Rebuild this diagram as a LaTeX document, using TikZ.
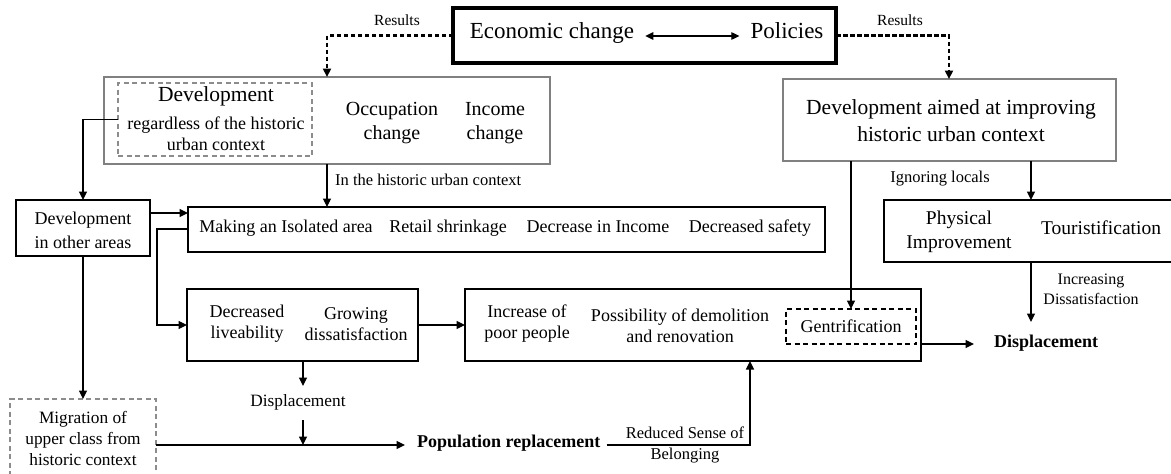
\documentclass[tikz,border=0pt]{standalone}
\usepackage{fontspec}
\setmainfont{Liberation Serif}
\usetikzlibrary{arrows.meta}
\newcommand\fsz[2]{\fontsize{#1}{#2}\selectfont}
\begin{document}
\begin{tikzpicture}[x=1pt,y=-1pt,
  box/.style={draw, line width=1.5pt, inner sep=0pt, outer sep=0pt, anchor=north west},
  gbox/.style={box, draw=black!50, line width=1.7pt},
  gdash/.style={box, draw=black!45, dash pattern=on 5pt off 3.5pt, line width=1.4pt},
  kdash/.style={box, draw=black, dash pattern=on 5pt off 3.5pt, line width=1.9pt},
  tbox/.style={box, line width=3.5pt},
  txt/.style={inner sep=0pt, align=center, font=\fsz{18}{21}},
  lbl/.style={inner sep=0pt, align=center, font=\fsz{16.5}{21}},
  one/.style={text height=0.7em, text depth=0.2em},
  arr/.style={line width=1.2pt, -{Triangle[length=8.5pt,width=8pt]}},
  dasharr/.style={line width=2.2pt, dash pattern=on 4.5pt off 2.5pt, -{Triangle[length=8.5pt,width=8pt]}},
  dblarr/.style={line width=1.2pt, {Triangle[length=8pt,width=7.5pt]}-{Triangle[length=8pt,width=7.5pt]}},
]
\useasboundingbox[fill=white] (0,0) rectangle (1171,474);

% ---------- boxes ----------
\node[tbox, minimum width=383, minimum height=55] (eco) at (453,8) {};
\node[gbox, minimum width=446, minimum height=87] (dev1) at (104,77) {};
\node[gdash, minimum width=194, minimum height=73] (in1) at (118,83) {};
\node[gbox, minimum width=333, minimum height=82] (dev2) at (783,79) {};
\node[box, minimum width=134, minimum height=56] (oth) at (16,200) {};
\node[box, minimum width=637, minimum height=45] (mk) at (188,207) {};
\node[box, minimum width=289, minimum height=62] (phys) at (884,200) {};
\node[box, minimum width=231, minimum height=72] (dec) at (187,289) {};
\node[box, minimum width=456, minimum height=72] (inc) at (465,289) {};
\node[kdash, minimum width=130, minimum height=35, font=\fsz{18}{21}] (gent) at (786,309) {Gentrification};
\node[gdash, minimum width=146, minimum height=78] (mig) at (10,399) {};

% ---------- texts ----------
\node[txt, one, font=\fsz{23}{27}] (econ) at (552,36) {Economic change};
\node[txt, one, font=\fsz{23}{27}] (pol) at (787,36) {Policies};
\node[lbl, one, font=\fsz{15.5}{19}] (res1) at (397,23) {Results};
\node[lbl, one, font=\fsz{15.5}{19}] (res2) at (900,23) {Results};

\node[txt, one, font=\fsz{21.5}{24}] (devt) at (216,99) {Development};
\node[txt] (regd) at (216,134) {regardless of the historic\\urban context};
\node[txt, font=\fsz{20}{24}] (occ) at (392,123) {Occupation\\change};
\node[txt, font=\fsz{20}{24}] (incch) at (495,123) {Income\\change};

\node[txt, font=\fsz{21.5}{27}] (dev2t) at (951,121) {Development aimed at improving\\historic urban context};

\node[lbl, one, anchor=west] (inhist) at (335,183) {In the historic urban context};
\node[lbl, one] (ign) at (940,180) {Ignoring locals};

\node[txt, font=\fsz{18}{24}] (otht) at (83,230) {Development\\in other areas};

\node[txt, one] (mk1) at (286,230) {Making an Isolated area};
\node[txt, one] (mk2) at (448,230) {Retail shrinkage};
\node[txt, one] (mk3) at (598,230) {Decrease in Income};
\node[txt, one] (mk4) at (750,230) {Decreased safety};

\node[txt, font=\fsz{19.5}{24}] (physt) at (959,232) {Physical\\Improvement};
\node[txt, one, font=\fsz{19.5}{24}] (tour) at (1101,232) {Touristification};

\node[txt] (dect) at (247,324) {Decreased\\liveability};
\node[txt] (grow) at (356,324) {Growing\\dissatisfaction};
\node[txt] (inct) at (527,324) {Increase of\\poor people};
\node[txt] (poss) at (680,326) {Possibility of demolition\\and renovation};

\node[lbl, font=\fsz{16}{20}] (incd) at (1091,289) {Increasing\\Dissatisfaction};
\node[txt, one, font=\fsz{18}{21}\bfseries, anchor=west] (disp) at (994,345) {Displacement};

\node[txt, one, font=\fsz{17.3}{21}] (dsp) at (298,404) {Displacement};
\node[txt, one, font=\fsz{18}{21}\bfseries, anchor=west] (pop) at (417,445) {Population replacement};
\node[lbl] (rsb) at (685,445) {Reduced Sense of\\Belonging};
\node[txt, font=\fsz{17.3}{21}] (migt) at (83,438) {Migration of\\upper class from\\historic context};

% ---------- helper coordinates ----------
\coordinate (c1) at (327,0);
\coordinate (c2) at (949,0);
\coordinate (c3) at (83,0);
\coordinate (c4) at (0,213);
\coordinate (c5) at (157,229);
\coordinate (c7) at (1031,0);
\coordinate (c8) at (1031,322);
\coordinate (c9) at (303,0);
\coordinate (d1) at (303,386);
\coordinate (d2) at (303,420);
\coordinate (c10) at (0,445);
\coordinate (c11) at (750,445);

% ---------- connectors ----------
\draw[dblarr, shorten <=11pt, shorten >=11pt] (econ.east) -- (pol.west);
\draw[dasharr] (eco.west) -| (c1 |- dev1.north);
\draw[dasharr] (eco.east) -| (c2 |- dev2.north);
\draw[arr] (c1 |- dev1.south) -- (c1 |- mk.north);
\draw[arr] (in1.west) -| (c3 |- oth.north);
\draw[arr] (oth.east |- c4) -- (mk.west |- c4);
\draw[arr] (mk.west |- c5) -- (c5) |- (dec.west);
\draw[arr] (dec.east) -- (inc.west);
\draw[arr] (dev2.south -| gent.north) -- (gent.north);
\draw[arr] (c7 |- dev2.south) -- (c7 |- phys.north);
\draw[arr] (c7 |- phys.south) -- (c8);
\draw[arr, shorten >=20pt] (inc.east |- gent.south) -- (disp.west |- gent.south);
\draw[arr] (c9 |- dec.south) -- (d1);
\draw[arr] (d2) -- (d2 |- c10);
\draw[arr] (c3 |- oth.south) -- (c3 |- mig.north);
\draw[arr, shorten >=12pt] (mig.east |- c10) -- (pop.west);
\draw[arr, shorten <=6pt] (pop.east) -- (c11) -- (c11 |- inc.south);
\end{tikzpicture}
\end{document}
